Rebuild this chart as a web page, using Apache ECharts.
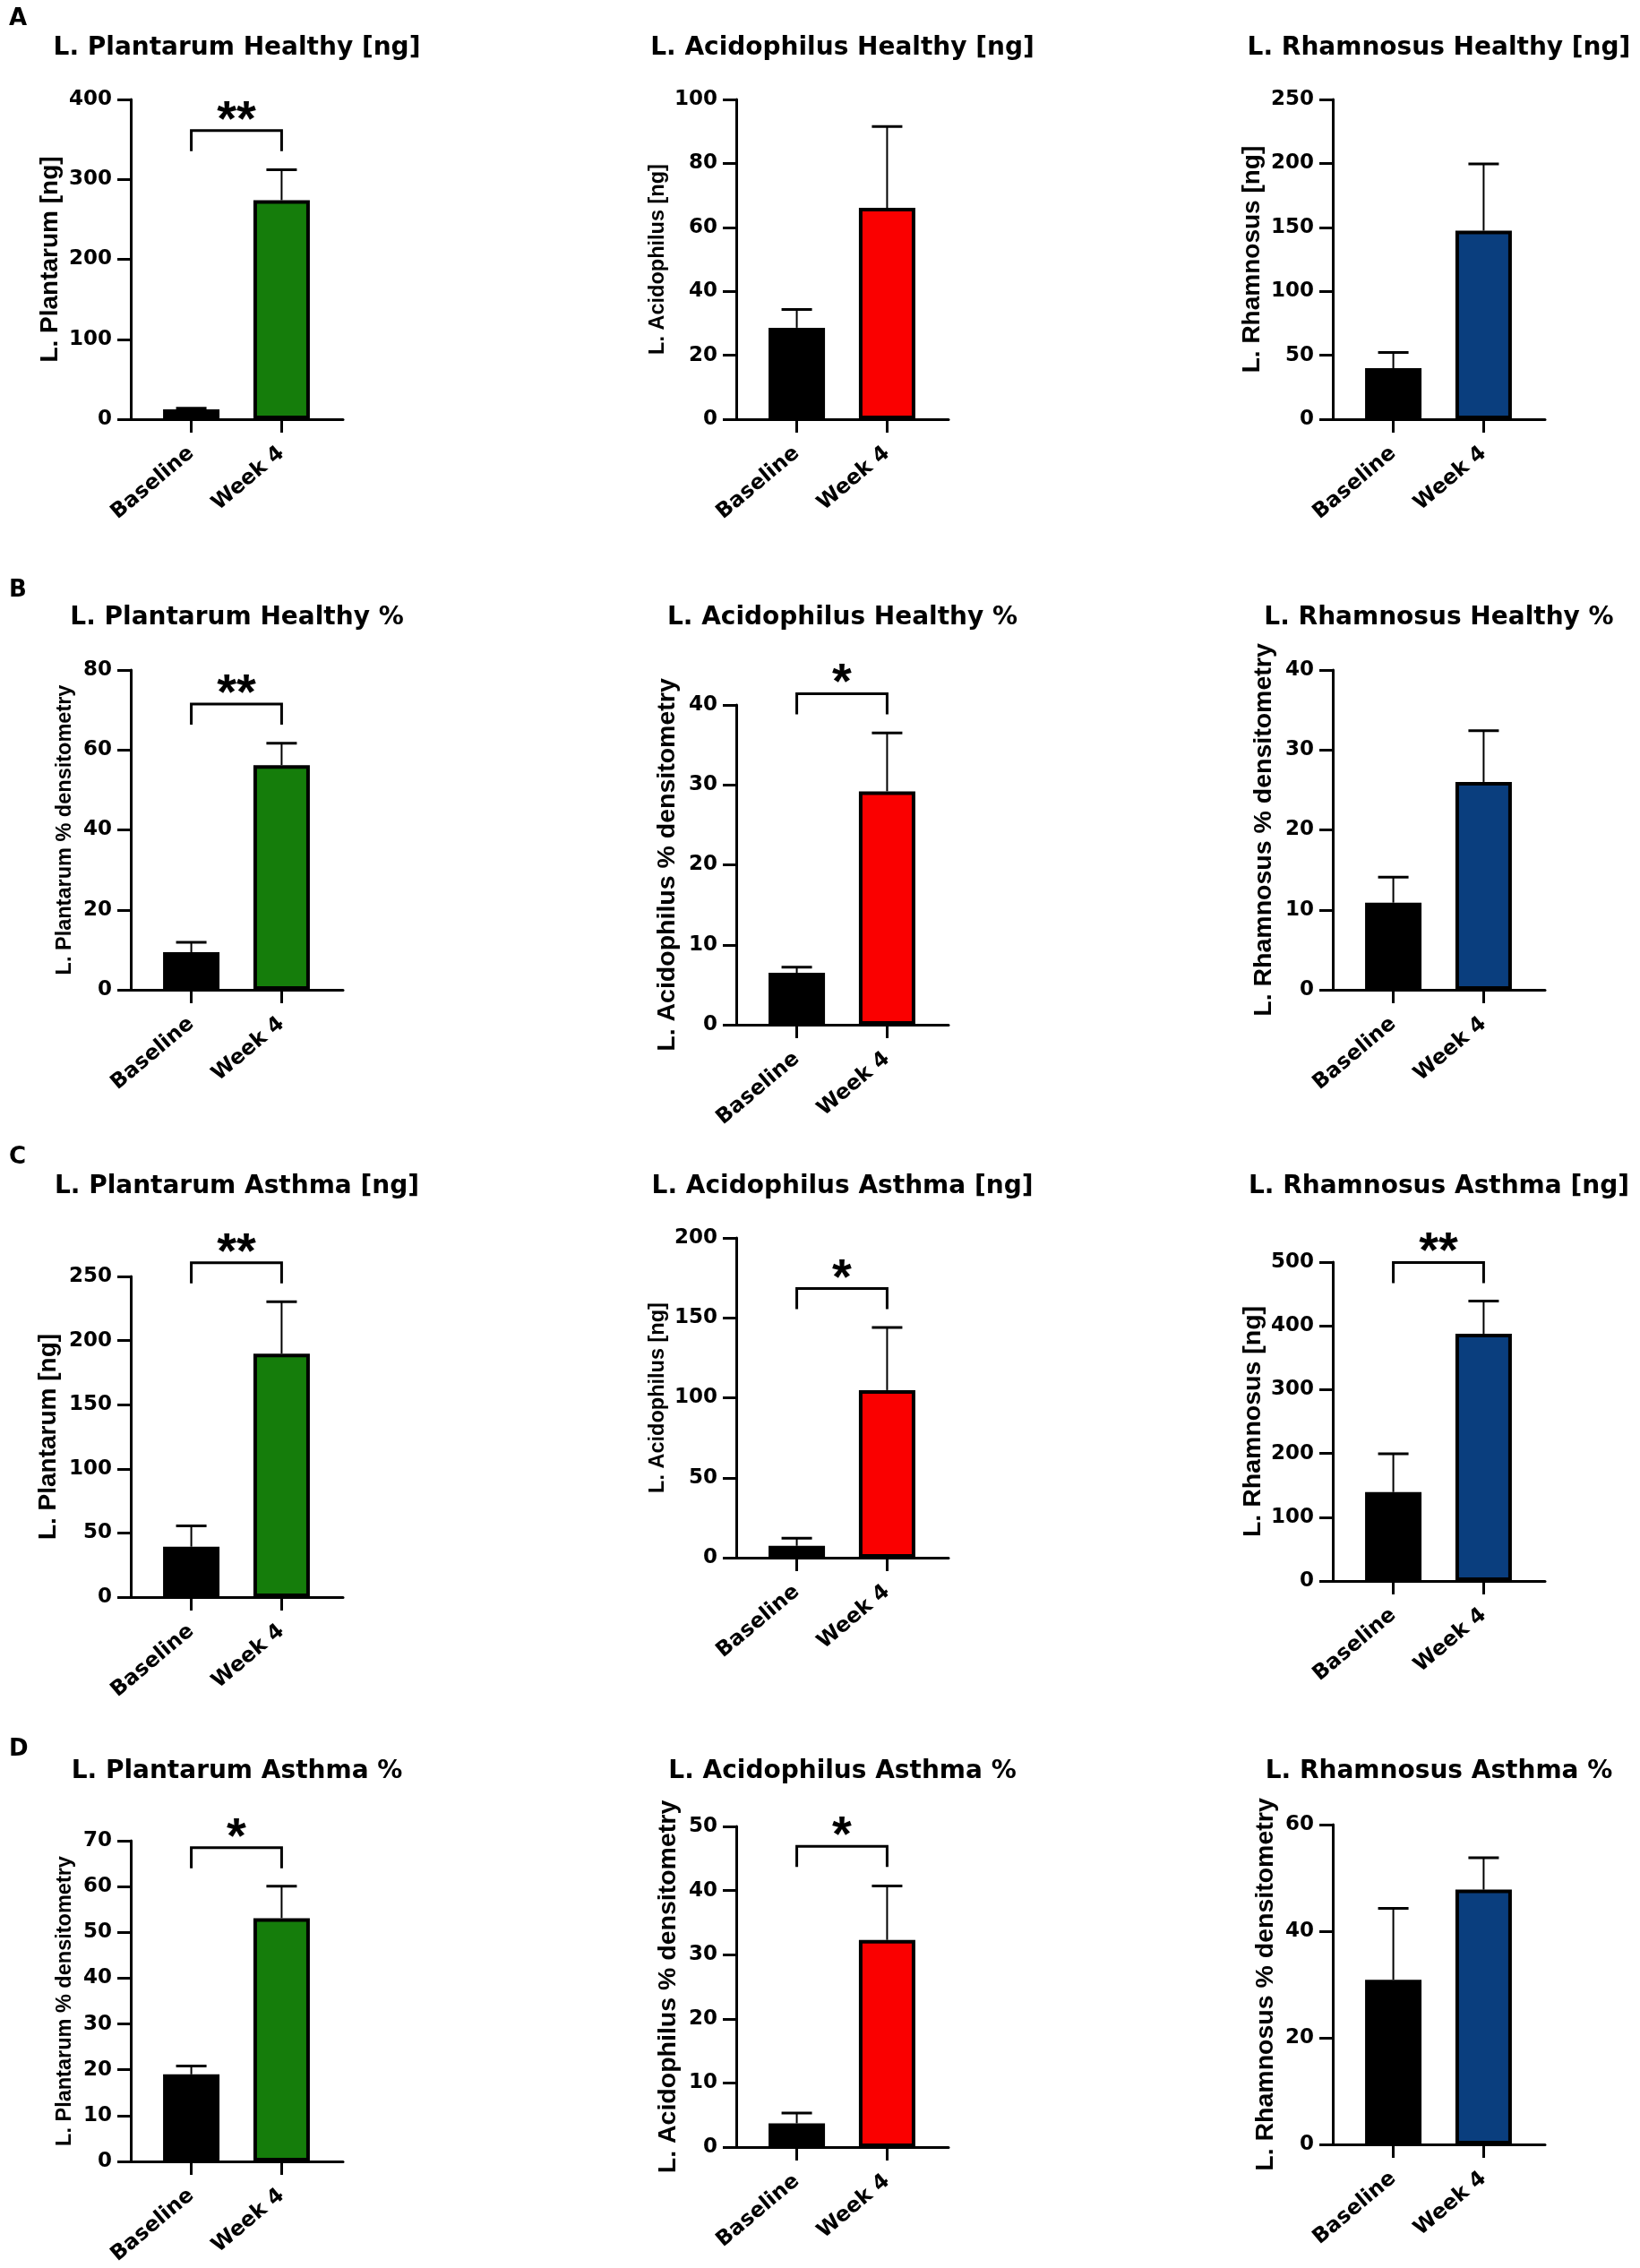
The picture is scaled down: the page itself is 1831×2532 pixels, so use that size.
<!DOCTYPE html>
<html>
<head>
<meta charset="utf-8">
<script src="https://cdn.jsdelivr.net/npm/echarts@6/dist/echarts.min.js"></script>
<style>
html,body{margin:0;padding:0;background:#ffffff;}
#chart{width:1831px;height:2532px;}
</style>
</head>
<body>
<div id="chart"></div>
<script>
// ---------- data ----------
const categories = ['Baseline', 'Week 4'];
const panelLetters = ['A', 'B', 'C', 'D'];
const panelTitles = [
  'L. Plantarum Healthy [ng]', 'L. Acidophilus Healthy [ng]', 'L. Rhamnosus Healthy [ng]',
  'L. Plantarum Healthy %', 'L. Acidophilus Healthy %', 'L. Rhamnosus Healthy %',
  'L. Plantarum Asthma [ng]', 'L. Acidophilus Asthma [ng]', 'L. Rhamnosus Asthma [ng]',
  'L. Plantarum Asthma %', 'L. Acidophilus Asthma %', 'L. Rhamnosus Asthma %'
];
const yAxisNames = [
  'L. Plantarum [ng]', 'L. Acidophilus [ng]', 'L. Rhamnosus [ng]',
  'L. Plantarum % densitometry', 'L. Acidophilus % densitometry', 'L. Rhamnosus % densitometry',
  'L. Plantarum [ng]', 'L. Acidophilus [ng]', 'L. Rhamnosus [ng]',
  'L. Plantarum % densitometry', 'L. Acidophilus % densitometry', 'L. Rhamnosus % densitometry'
];
const yMax  = [400, 100, 250,  80, 40, 40,  250, 200, 500,  70, 50, 60];
const yStep = [100,  20,  50,  20, 10, 10,   50,  50, 100,  10, 10, 20];
const baselineMean  = [12.4, 28.6, 39.9,  9.4, 6.5, 10.9,  39.3,   7.4, 139.4,  19.0,  3.7, 30.9];
const baselineUpper = [13.8, 34.3, 52.2, 11.9, 7.2, 14.1,  55.6,  12.2, 199.3,  20.8,  5.3, 44.3];
const week4Mean     = [274,  66.1, 147.4, 56.2, 29.2, 26.0, 189.8, 104.8, 387.7, 53.1, 32.3, 47.8];
const week4Upper    = [312,  91.5, 199.5, 61.7, 36.5, 32.4, 230.2, 144.0, 439.0, 60.1, 40.7, 53.8];
const significance  = ['**', '', '',  '**', '*', '',  '**', '*', '**',  '*', '*', ''];
const bracketLevel  = [361, null, null,  71.5, 41.4, null,  260.6, 168.3, 499.4,  68.5, 46.9, null];

// ---------- layout & style ----------
const speciesColors = ['#157d0b', '#fa0000', '#0a3e7e'];
const colLeft = [146, 822, 1488];
const plotW = 237;
const gridTop    = [111, 111, 111,  748, 787, 748,  1425, 1382, 1409,  2055, 2039, 2037];
const gridBottom = [468, 468, 468, 1105, 1144, 1105, 1783, 1739, 1765,  2413, 2397, 2394];
const nameGaps   = [76, 75, 76,  61, 62, 62,  78, 75, 74,  61, 61, 60];
const nameSizes  = [28, 23.5, 28,  23.5, 28.5, 28.5,  28, 23.5, 28.5,  23.5, 28.5, 28.5];
const titleY  = [54, 690, 1325, 1978];
const letterY = [21.5, 659, 1292, 1953];

const BOLD = 'bold';
const tickFont = { fontFamily: 'DejaVu Sans', fontWeight: BOLD, fontSize: 23, color: '#000' };
const catFont = { fontFamily: 'DejaVu Sans', fontWeight: BOLD, fontSize: 23.5, color: '#000' };
const axisLineStyle = { color: '#000', width: 3 };

const grids = [], xAxes = [], yAxes = [], series = [], graphics = [];

for (let r = 0; r < 4; r++) {
  graphics.push({
    type: 'text', x: 10, y: letterY[r],
    style: { text: panelLetters[r], font: 'bold 26px "DejaVu Sans"', fill: '#000', align: 'left', verticalAlign: 'middle' }
  });
}

for (let i = 0; i < 12; i++) {
  const r = Math.floor(i / 3), c = i % 3;
  grids.push({ left: colLeft[c], top: gridTop[i], width: plotW, height: gridBottom[i] - gridTop[i] });
  graphics.push({
    type: 'text', x: colLeft[c] + plotW / 2, y: titleY[r],
    style: { text: panelTitles[i], font: 'bold 28px "DejaVu Sans"', fill: '#000', align: 'center', verticalAlign: 'middle' }
  });
  xAxes.push({
    type: 'value', gridIndex: i, min: -0.67, max: 1.68,
    axisLine: { show: true, onZero: false, lineStyle: axisLineStyle },
    axisTick: { show: true, customValues: [0, 1], length: 15, lineStyle: axisLineStyle },
    axisLabel: Object.assign({
      customValues: [0, 1], rotate: 40, margin: 35,
      formatter: v => categories[Math.round(v)] || ''
    }, catFont),
    splitLine: { show: false }
  });
  yAxes.push({
    type: 'value', gridIndex: i, min: 0, max: yMax[i], interval: yStep[i],
    name: yAxisNames[i], nameLocation: 'middle', nameGap: nameGaps[i],
    nameTextStyle: { fontFamily: 'Liberation Sans', fontWeight: BOLD, fontSize: nameSizes[i], color: '#000' },
    axisLine: { show: true, onZero: false, lineStyle: axisLineStyle },
    axisTick: { show: true, length: 15, lineStyle: axisLineStyle },
    axisLabel: Object.assign({ margin: 21 }, tickFont),
    splitLine: { show: false }
  });
  series.push({
    type: 'bar', xAxisIndex: i, yAxisIndex: i, barWidth: 63, silent: true,
    itemStyle: { borderColor: '#000', borderWidth: 4 },
    data: [
      { value: [0, baselineMean[i]], itemStyle: { color: '#000' } },
      { value: [1, week4Mean[i]], itemStyle: { color: speciesColors[c] } }
    ],
    z: 2
  });
  series.push({
    type: 'custom', xAxisIndex: i, yAxisIndex: i, silent: true, clip: false, z: 3,
    encode: { x: 0, y: [1, 2] },
    data: [[0, baselineMean[i], baselineUpper[i]], [1, week4Mean[i], week4Upper[i]]],
    renderItem: function (params, api) {
      const p1 = api.coord([api.value(0), api.value(1)]);
      const p2 = api.coord([api.value(0), api.value(2)]);
      return {
        type: 'group', children: [
          { type: 'line', shape: { x1: p1[0], y1: p1[1], x2: p2[0], y2: p2[1] }, style: { stroke: '#000', lineWidth: 2 } },
          { type: 'line', shape: { x1: p2[0] - 17, y1: p2[1], x2: p2[0] + 17, y2: p2[1] }, style: { stroke: '#000', lineWidth: 3 } }
        ]
      };
    }
  });
  if (significance[i]) {
    const sig = significance[i];
    series.push({
      type: 'custom', xAxisIndex: i, yAxisIndex: i, silent: true, clip: false, z: 4,
      encode: { x: [0, 1], y: 2 },
      data: [[0, 1, bracketLevel[i]]],
      renderItem: function (params, api) {
        const a = api.coord([api.value(0), api.value(2)]);
        const b = api.coord([api.value(1), api.value(2)]);
        const drop = 23;
        return {
          type: 'group', children: [
            { type: 'polyline', shape: { points: [[a[0], a[1] + drop], [a[0], a[1]], [b[0], b[1]], [b[0], b[1] + drop]] },
              style: { stroke: '#000', lineWidth: 3, fill: null } },
            { type: 'text', x: (a[0] + b[0]) / 2, y: a[1] - 10.5,
              style: { text: sig, font: 'bold 56px "Liberation Sans"', fill: '#000', align: 'center', verticalAlign: 'middle' } }
          ]
        };
      }
    });
  }
}

const chart = echarts.init(document.getElementById('chart'), null, { renderer: 'canvas' });
chart.setOption({
  backgroundColor: '#ffffff',
  animation: false,
  grid: grids,
  xAxis: xAxes,
  yAxis: yAxes,
  series: series,
  graphic: { elements: graphics }
});
</script>
</body>
</html>
